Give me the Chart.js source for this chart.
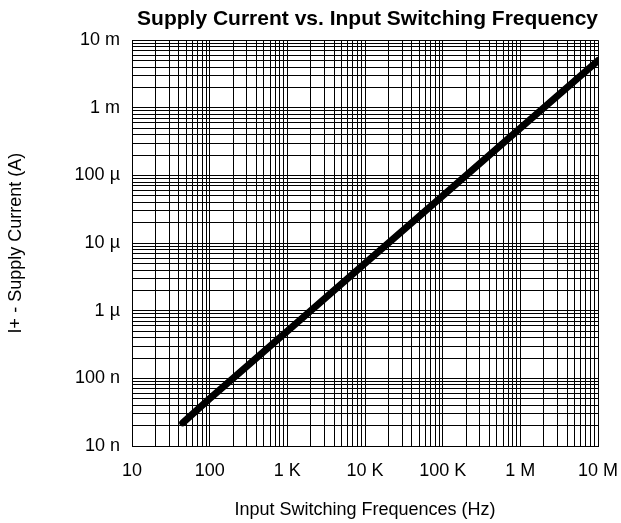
<!DOCTYPE html>
<html>
<head>
<meta charset="utf-8">
<script src="https://cdn.jsdelivr.net/npm/chart.js@4/dist/chart.umd.min.js"></script>
<style>
    body { margin: 0; background: #fff; }
    canvas { display: block; }
</style>
</head>
<body>
<canvas id="chart" width="621" height="523"></canvas>
<script>
// data (frequency in Hz, current in A)
const freq = [45, 100, 1000, 10000, 100000, 1000000, 10000000];
const current = [2.2e-8, 5e-8, 5e-7, 5e-6, 5e-5, 5e-4, 5e-3];

// decade ticks and their labels
const xDecades = [10, 100, 1e3, 1e4, 1e5, 1e6, 1e7];
const xLabels = ["10", "100", "1 K", "10 K", "100 K", "1 M", "10 M"];
const yDecades = [1e-8, 1e-7, 1e-6, 1e-5, 1e-4, 1e-3, 1e-2];
const yLabels = ["10 n", "100 n", "1 \u00b5", "10 \u00b5", "100 \u00b5", "1 m", "10 m"];
const minorSteps = [1, 2, 3, 4, 5, 6, 7, 8, 9];

const font = "'Liberation Sans', Arial, sans-serif";

function gridTicks(decades) {
    const ticks = [];
    decades.forEach((d, i) => {
        if (i === decades.length - 1) {
            ticks.push({ value: d });
            return;
        }
        minorSteps.forEach(m => ticks.push({ value: d * m }));
    });
    return ticks;
}

function labelFor(decades, labels, value) {
    for (let i = 0; i < decades.length; i++) {
        if (Math.abs(value / decades[i] - 1) < 1e-6) return labels[i];
    }
    return "";
}

const points = freq.map((f, i) => ({ x: f, y: current[i] }));

new Chart(document.getElementById("chart"), {
    type: "line",
    data: {
        datasets: [{
            data: points,
            borderColor: "#000",
            borderWidth: 7,
            borderCapStyle: "round",
            pointRadius: 0,
            tension: 0
        }]
    },
    options: {
        responsive: false,
        animation: false,
        layout: { padding: { left: 0, right: 23, top: 0, bottom: 0 } },
        plugins: {
            legend: { display: false },
            tooltip: { enabled: false },
            title: {
                display: true,
                text: "Supply Current vs. Input Switching Frequency",
                align: "end",
                color: "#000",
                font: { family: font, size: 21, weight: "bold" },
                padding: { top: 7, bottom: 8 }
            }
        },
        scales: {
            x: {
                type: "logarithmic",
                min: 10,
                max: 1e7,
                afterBuildTicks: s => { s.ticks = gridTicks(xDecades); },
                afterFit: s => {
                    s.height = 77;
                    s.paddingLeft = 0;
                    s.paddingRight = 0;
                },
                grid: { color: "#000", lineWidth: 1, drawTicks: false },
                border: { color: "#000", width: 1 },
                ticks: {
                    autoSkip: false,
                    maxRotation: 0,
                    minRotation: 0,
                    padding: 14,
                    color: "#000",
                    font: { family: font, size: 18 },
                    callback: v => labelFor(xDecades, xLabels, v)
                },
                title: {
                    display: true,
                    text: "Input Switching Frequences (Hz)",
                    color: "#000",
                    font: { family: font, size: 18 },
                    padding: { top: 4, bottom: 2 }
                }
            },
            y: {
                type: "logarithmic",
                min: 1e-8,
                max: 1e-2,
                afterBuildTicks: s => { s.ticks = gridTicks(yDecades); },
                afterFit: s => {
                    s.width = 132;
                    s.paddingTop = 0;
                    s.paddingBottom = 0;
                },
                grid: { color: "#000", lineWidth: 1, drawTicks: false },
                border: { color: "#000", width: 1 },
                ticks: {
                    autoSkip: false,
                    padding: 12,
                    color: "#000",
                    font: { family: font, size: 18 },
                    callback: v => labelFor(yDecades, yLabels, v)
                },
                title: {
                    display: true,
                    text: "I+ - Supply Current (A)",
                    color: "#000",
                    font: { family: font, size: 18 },
                    padding: { top: 5, bottom: 4 }
                }
            }
        }
    }
});
</script>
</body>
</html>
